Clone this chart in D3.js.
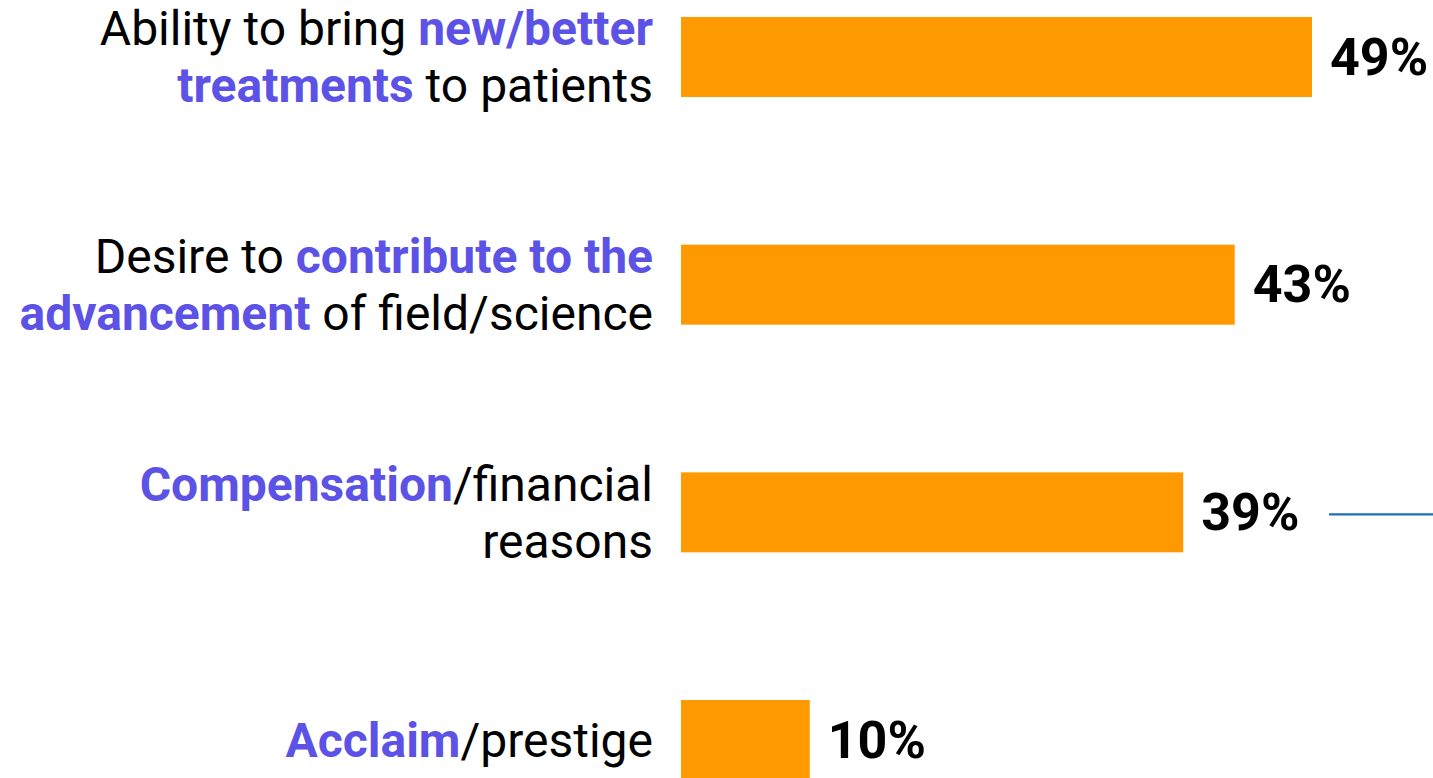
<!DOCTYPE html>
<html>
<head>
<meta charset="utf-8">
<script src="https://cdn.jsdelivr.net/npm/d3@7/dist/d3.min.js"></script>
<style>
  html, body { margin: 0; padding: 0; background: #fff; overflow: hidden; }
  svg { display: block; font-family: Roboto, "Noto Sans", sans-serif; }
</style>
</head>
<body>
<svg id="chart" width="1433" height="778"></svg>
<script>
// reasons, top to bottom
var categories = ["treatments", "advancement", "compensation", "acclaim"];
var values = [49, 43, 39, 10];

// label lines: each line is a list of [text, highlighted]
var labelLines = [
    [[["Ability to bring ", false], ["new/better", true]],
     [["treatments", true], [" to patients", false]]],
    [[["Desire to ", false], ["contribute to the", true]],
     [["advancement", true], [" of field/science", false]]],
    [[["Compensation", true], ["/financial", false]],
     [["reasons", false]]],
    [[["Acclaim", true], ["/prestige", false]]]
];

var ORANGE = "#ff9900";
var PURPLE = "#5c52e6";
var LINE_HEIGHT = 57;

var svg = d3.select("#chart");

var x = d3.scaleLinear()
    .domain([0, 49])
    .range([681, 1312]);

var y = d3.scaleBand()
    .domain(categories)
    .range([17, 780])
    .paddingInner(0.6487)
    .paddingOuter(0);

svg.selectAll("rect.bar")
    .data(categories)
    .enter().append("rect")
    .attr("class", "bar")
    .attr("x", x(0))
    .attr("y", function(d) { return y(d); })
    .attr("width", function(d, i) { return x(values[i]) - x(0); })
    .attr("height", y.bandwidth())
    .attr("fill", ORANGE);

svg.selectAll("text.value")
    .data(categories)
    .enter().append("text")
    .attr("class", "value")
    .attr("x", function(d, i) { return x(values[i]) + 18; })
    .attr("y", function(d) { return y(d) + y.bandwidth() / 2; })
    .attr("dy", "0.34em")
    .attr("font-size", 52)
    .attr("font-weight", 700)
    .attr("fill", "#000")
    .text(function(d, i) { return values[i] + "%"; });

var labels = svg.selectAll("text.label")
    .data(categories)
    .enter().append("text")
    .attr("class", "label")
    .attr("text-anchor", "end")
    .attr("font-size", 48)
    .attr("fill", "#000");

labels.each(function(d, i) {
    var lines = labelLines[i];
    var cy = y(d) + y.bandwidth() / 2;
    var top = cy - (lines.length - 1) * LINE_HEIGHT / 2;
    var t = d3.select(this);
    lines.forEach(function(line, j) {
        line.forEach(function(seg, k) {
            var ts = t.append("tspan")
                .attr("fill", seg[1] ? PURPLE : "#000")
                .attr("font-weight", seg[1] ? 700 : 400)
                .text(seg[0]);
            if (k == 0) {
                ts.attr("x", 653).attr("y", top + j * LINE_HEIGHT).attr("dy", "0.35em");
            }
        });
    });
});

// stray connector line to the right of the compensation bar
svg.append("line")
    .attr("x1", 1329)
    .attr("x2", 1433)
    .attr("y1", y("compensation") + y.bandwidth() / 2 + 2)
    .attr("y2", y("compensation") + y.bandwidth() / 2 + 2)
    .attr("stroke", "#1f6fb5")
    .attr("stroke-width", 2.2);
</script>
</body>
</html>
